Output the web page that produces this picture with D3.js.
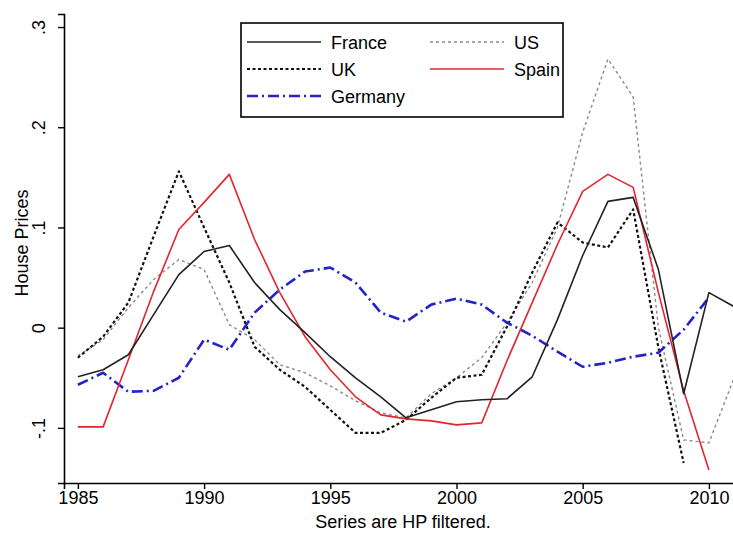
<!DOCTYPE html>
<html>
<head>
  <meta charset="utf-8">
  <title>House Prices</title>
  <style>
    body { margin: 0; background: #fff; }
    text { font-family: "Liberation Sans", Arial, sans-serif; }
  </style>
</head>
<body>
  <script src="https://d3js.org/d3.v7.min.js"></script>
  <script type="text/javascript">

 var years   = [1985,1986,1987,1988,1989,1990,1991,1992,1993,1994,1995,1996,1997,1998,1999,
                2000,2001,2002,2003,2004,2005,2006,2007,2008,2009,2010,2011];
 var france  = [-0.049,-0.042,-0.027,0.013,0.053,0.076,0.082,0.045,0.018,-0.005,-0.029,-0.050,-0.069,-0.090,-0.082,
                -0.074,-0.072,-0.071,-0.049,0.008,0.072,0.126,0.130,0.058,-0.066,0.035,0.021];
 var uk      = [-0.030,-0.009,0.025,0.091,0.156,0.100,0.045,-0.019,-0.042,-0.059,-0.082,-0.105,-0.105,-0.092,-0.070,
                -0.050,-0.047,0.001,0.055,0.105,0.085,0.080,0.118,-0.020,-0.135];
 var us      = [-0.028,-0.012,0.020,0.048,0.068,0.058,0.003,-0.012,-0.037,-0.045,-0.058,-0.073,-0.085,-0.090,-0.066,
                -0.050,-0.030,0.005,0.045,0.100,0.195,0.268,0.230,0.000,-0.112,-0.115,-0.050];
 var spain   = [-0.099,-0.099,-0.032,0.036,0.098,0.125,0.153,0.088,0.035,-0.009,-0.042,-0.069,-0.087,-0.091,-0.093,
                -0.097,-0.095,-0.033,0.025,0.083,0.136,0.153,0.140,0.035,-0.063,-0.142];
 var germany = [-0.057,-0.045,-0.064,-0.063,-0.050,-0.012,-0.022,0.015,0.038,0.056,0.060,0.045,0.015,0.006,0.023,
                0.029,0.023,0.005,-0.008,-0.024,-0.039,-0.035,-0.029,-0.025,-0.002,0.030];

 var xTicks = [1985,1990,1995,2000,2005,2010];
 var yTicks = [-0.1, 0, 0.1, 0.2, 0.3];
 var yTickLabels = ["-.1", "0", ".1", ".2", ".3"];

 var width = 733, height = 534;

 var svg = d3.select("body")
            .append("svg")
            .attr("width", width)
            .attr("height", height);

 svg.append("rect").attr("width", width).attr("height", height).attr("fill", "#fff");

 var x = d3.scaleLinear().domain([1984.45, 2011.05]).range([64, 735.4]);
 var y = d3.scaleLinear().domain([-0.155, 0.313]).range([483, 14]);

 // series, drawn back to front
 var series = [
   {name: "US",      values: us,      color: "#8a8a8a", width: 1.4, dash: "3,3"},
   {name: "UK",      values: uk,      color: "#111",    width: 2.2, dash: "3,2.5"},
   {name: "Germany", values: germany, color: "#2323c8", width: 2.6, dash: "11,4,2,4"},
   {name: "Spain",   values: spain,   color: "#e3262e", width: 1.6, dash: null},
   {name: "France",  values: france,  color: "#222",    width: 1.6, dash: null}
 ];

 var line = d3.line()
     .x(function(d){ return x(d.year); })
     .y(function(d){ return y(d.value); });

 series.forEach(function(s){
   var pts = s.values.map(function(v, i){ return {year: years[i], value: v}; });
   svg.append("path")
      .datum(pts)
      .attr("d", line)
      .attr("fill", "none")
      .attr("stroke", s.color)
      .attr("stroke-width", s.width)
      .attr("stroke-dasharray", s.dash)
      .attr("stroke-linejoin", "round");
 });

 // axes
 var xAxis = svg.append("g")
    .attr("transform", "translate(0,483)")
    .call(d3.axisBottom(x).tickValues(xTicks).tickFormat(d3.format("d")).tickSizeOuter(0).tickSize(6));
 xAxis.select(".domain").attr("stroke-width", 1.6);
 xAxis.selectAll(".tick line").attr("stroke-width", 1.4);
 xAxis.selectAll("text").attr("font-size", "18px").attr("fill", "#000")
    .attr("y", 21).attr("dy", null);

 var yAxis = svg.append("g")
    .attr("transform", "translate(64,0)")
    .call(d3.axisLeft(y).tickValues(yTicks)
      .tickFormat(function(d, i){ return yTickLabels[i]; })
      .tickSizeOuter(0).tickSize(6));
 yAxis.select(".domain").attr("stroke-width", 1.6);
 yAxis.selectAll(".tick line").attr("stroke-width", 1.4);
 yAxis.selectAll("text")
    .attr("font-size", "18px").attr("fill", "#000")
    .attr("x", null).attr("dy", null)
    .attr("text-anchor", "middle")
    .attr("transform", "translate(-19,0) rotate(-90)");

 svg.append("text")
    .attr("transform", "translate(28,243) rotate(-90)")
    .attr("text-anchor", "middle")
    .attr("font-size", "18px")
    .text("House Prices");

 svg.append("text")
    .attr("x", 403).attr("y", 528)
    .attr("text-anchor", "middle")
    .attr("font-size", "18px")
    .text("Series are HP filtered.");

 // legend
 var legend = svg.append("g");
 legend.append("rect")
    .attr("x", 241).attr("y", 23).attr("width", 322).attr("height", 94)
    .attr("fill", "#fff").attr("stroke", "#000").attr("stroke-width", 1.6);

 var legendItems = [
   {name: "France",  col: 0, row: 0},
   {name: "US",      col: 1, row: 0},
   {name: "UK",      col: 0, row: 1},
   {name: "Spain",   col: 1, row: 1},
   {name: "Germany", col: 0, row: 2}
 ];
 legendItems.forEach(function(it){
   var s = series.filter(function(d){ return d.name == it.name; })[0];
   var lx = it.col == 0 ? 247 : 430;
   var ly = 42 + it.row * 27;
   legend.append("line")
      .attr("x1", lx).attr("x2", lx + 74).attr("y1", ly).attr("y2", ly)
      .attr("stroke", s.color).attr("stroke-width", s.width)
      .attr("stroke-dasharray", s.dash);
   legend.append("text")
      .attr("x", lx + 84).attr("y", ly + 7)
      .attr("font-size", "18px")
      .text(it.name);
 });

  </script>
</body>
</html>
